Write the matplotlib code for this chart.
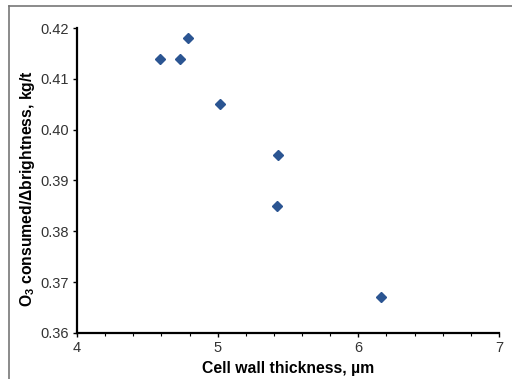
import matplotlib
matplotlib.use("Agg")
import matplotlib.pyplot as plt
from matplotlib.ticker import MultipleLocator
from matplotlib.lines import Line2D

plt.rcParams['font.family'] = ['Liberation Sans', 'DejaVu Sans']
plt.rcParams['mathtext.fontset'] = 'custom'
plt.rcParams['mathtext.rm'] = 'Liberation Sans'
plt.rcParams['mathtext.bf'] = 'Liberation Sans:bold'

thickness = [4.59, 4.73, 4.79, 5.02, 5.43, 5.42, 6.16]
o3_per_brightness = [0.414, 0.414, 0.418, 0.405, 0.395, 0.385, 0.367]

fig = plt.figure(figsize=(5.12, 3.79), dpi=100)
ax = fig.add_axes([0.1504, 0.1214, 0.8242, 0.8047])

ax.plot(thickness, o3_per_brightness, linestyle='none', marker='D',
        markersize=5.6, color='#2B5592', markeredgecolor='#2B5592')

ax.set_xlim(4, 7)
ax.set_ylim(0.36, 0.42)
ax.xaxis.set_major_locator(MultipleLocator(1))
ax.xaxis.set_minor_locator(MultipleLocator(0.2))
ax.yaxis.set_major_locator(MultipleLocator(0.01))
ax.yaxis.set_major_formatter(plt.FormatStrFormatter('%.2f'))
ax.xaxis.set_major_formatter(plt.FormatStrFormatter('%d'))

for s in ['top', 'right']:
    ax.spines[s].set_visible(False)
for s in ['left', 'bottom']:
    ax.spines[s].set_linewidth(1.6)
    ax.spines[s].set_color('black')

ax.tick_params(axis='both', which='major', direction='out', length=3, width=1,
               labelsize=10.5, labelcolor='#333333', pad=3)
ax.tick_params(axis='x', which='minor', direction='out', length=2, width=0.8)

ax.set_xlabel('Cell wall thickness, µm', fontsize=11.3, fontweight='bold', labelpad=4)
ax.set_ylabel(r'O$_\mathbf{3}$ consumed/Δbrightness, kg/t', fontsize=11.3,
              fontweight='bold')
ax.yaxis.set_label_coords(-0.094, 0.475)

fig.add_artist(Line2D([9/512, 9/512], [0, 1 - 6/379], transform=fig.transFigure,
                      color='#777777', linewidth=1.2))
fig.add_artist(Line2D([9/512, 1], [1 - 6/379, 1 - 6/379], transform=fig.transFigure,
                      color='#777777', linewidth=1.2))

fig.savefig('out.png', dpi=100)
